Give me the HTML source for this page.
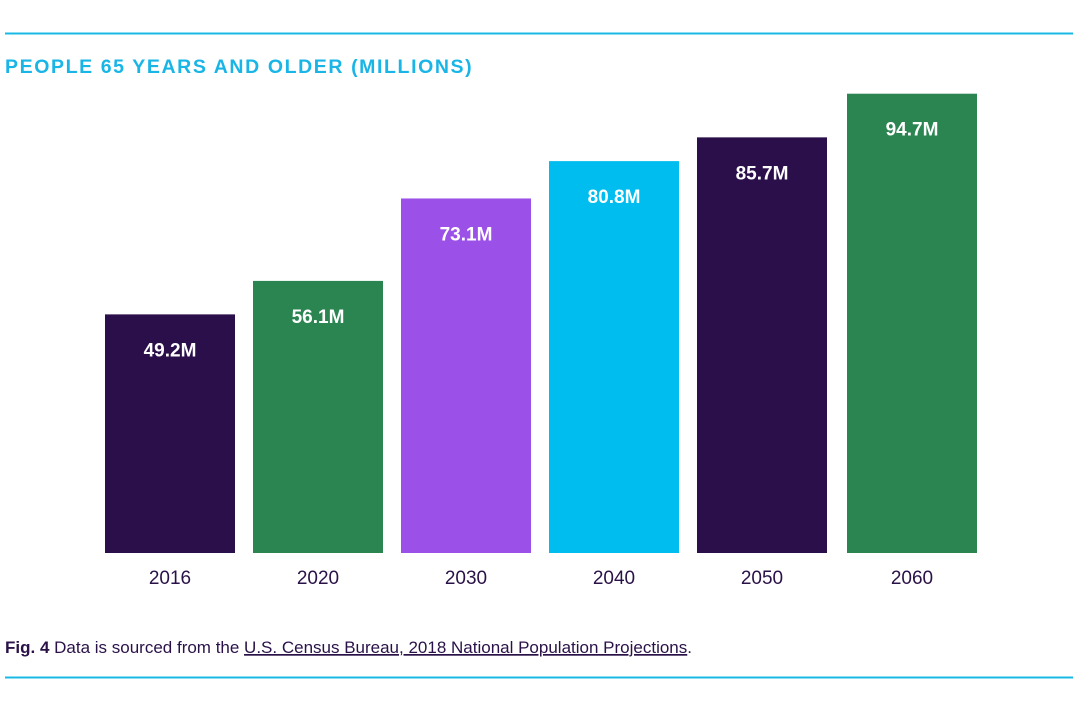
<!DOCTYPE html>
<html><head><meta charset="utf-8">
<style>
html,body{margin:0;padding:0;background:#fff;}
body{width:1080px;height:708px;overflow:hidden;position:relative;font-family:"Liberation Sans",sans-serif;}
svg{position:absolute;left:0;top:0;}
</style></head>
<body>
<svg id="chart" width="1080" height="708">
  <line x1="5" y1="33.5" x2="1073" y2="33.5" stroke="#19b9e6" stroke-width="2"/>
  <text x="5" y="73" font-size="19.5" font-weight="bold" fill="#19b5e6" letter-spacing="1.6">PEOPLE 65 YEARS AND OLDER (MILLIONS)</text>
  <g id="bars"></g>
  <text x="5" y="653" font-size="17" fill="#2a1248"><tspan font-weight="bold">Fig. 4</tspan> Data is sourced from the <tspan text-decoration="underline">U.S. Census Bureau, 2018 National Population Projections</tspan>.</text>
  <line x1="5" y1="677.5" x2="1073" y2="677.5" stroke="#19b9e6" stroke-width="2"/>
</svg>
<script>
const categories = ["2016","2020","2030","2040","2050","2060"];
const values = [49.2, 56.1, 73.1, 80.8, 85.7, 94.7];
const valueLabels = ["49.2M","56.1M","73.1M","80.8M","85.7M","94.7M"];
const colors = ["#2a0f4a","#2a8550","#9b51e8","#00bdef","#2a0f4a","#2a8550"];

const baseY = 553, pxPerM = 4.85;
const x0 = 105, step = 148, barW = 130;
function yScale(v){ return baseY - v * pxPerM; }
function xScale(i){ return x0 + i * step - (i>=5?-2:0); }
const NS = "http://www.w3.org/2000/svg";
const g = document.getElementById("bars");
categories.forEach((c,i)=>{
  const x = xScale(i), y = yScale(values[i]);
  const r = document.createElementNS(NS,"rect");
  
  
  r.setAttribute("x",x); r.setAttribute("y",y);
  r.setAttribute("width",barW); r.setAttribute("height",baseY-y);
  r.setAttribute("fill",colors[i]);
  g.appendChild(r);
  const t = document.createElementNS(NS,"text");
  
  
  t.setAttribute("x",x+barW/2); t.setAttribute("y",y+42);
  t.setAttribute("text-anchor","middle"); t.setAttribute("font-size","19");
  t.setAttribute("font-weight","bold"); t.setAttribute("fill","#fff");
  t.textContent = valueLabels[i];
  g.appendChild(t);
  const l = document.createElementNS(NS,"text");
  
  
  l.setAttribute("x",x+barW/2); l.setAttribute("y",584);
  l.setAttribute("text-anchor","middle"); l.setAttribute("font-size","19");
  l.setAttribute("fill","#2a1248");
  l.textContent = c;
  g.appendChild(l);
});
</script>
</body></html>
